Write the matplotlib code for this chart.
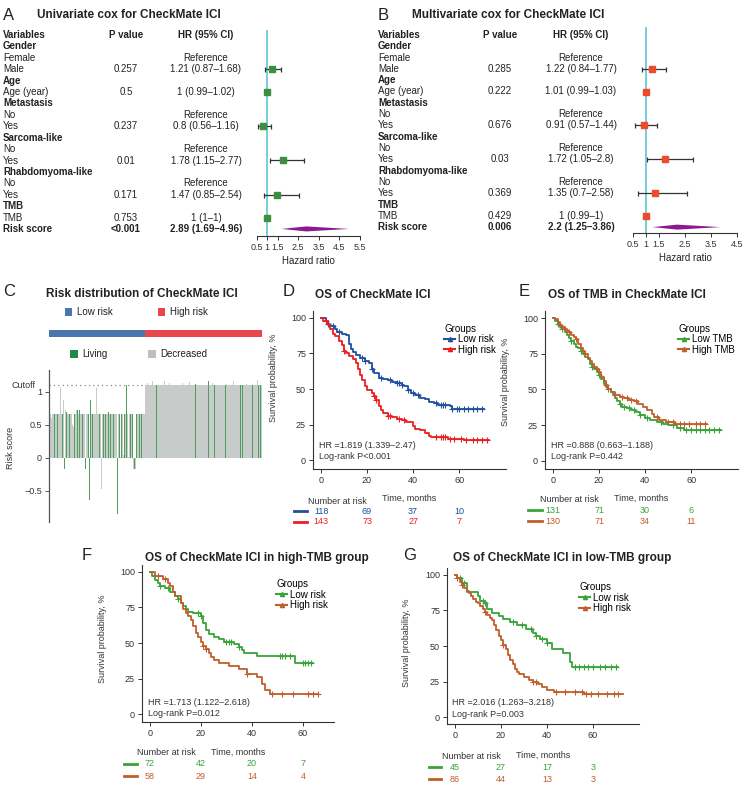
import numpy as np
import matplotlib.pyplot as plt
from matplotlib.lines import Line2D
import matplotlib.transforms as mtransforms

plt.rcParams['font.family'] = ['Liberation Sans', 'DejaVu Sans']

W, H = 743, 787
fig = plt.figure(figsize=(W / 100, H / 100), dpi=100)


def px_axes(l, t, r, b):
    return fig.add_axes([l / W, 1 - b / H, (r - l) / W, (b - t) / H])


ov = px_axes(0, 0, W, H)
ov.set_xlim(0, W)
ov.set_ylim(H, 0)
ov.axis('off')

# ---------------- data ----------------
row_labels = ['Variables', 'Gender', 'Female', 'Male', 'Age', 'Age (year)', 'Metastasis', 'No', 'Yes',
              'Sarcoma-like', 'No', 'Yes', 'Rhabdomyoma-like', 'No', 'Yes', 'TMB', 'TMB', 'Risk score']
bold_rows = [0, 1, 4, 6, 9, 12, 15, 17]

p_uni = ['P value', '', '', '0.257', '', '0.5', '', '', '0.237', '', '', '0.01', '', '', '0.171', '', '0.753', '<0.001']
hr_uni_txt = ['HR (95% CI)', '', 'Reference', '1.21 (0.87–1.68)', '', '1 (0.99–1.02)', '', 'Reference',
              '0.8 (0.56–1.16)', '', 'Reference', '1.78 (1.15–2.77)', '', 'Reference', '1.47 (0.85–2.54)',
              '', '1 (1–1)', '2.89 (1.69–4.96)']
p_multi = ['P value', '', '', '0.285', '', '0.222', '', '', '0.676', '', '', '0.03', '', '', '0.369', '', '0.429', '0.006']
hr_multi_txt = ['HR (95% CI)', '', 'Reference', '1.22 (0.84–1.77)', '', '1.01 (0.99–1.03)', '', 'Reference',
                '0.91 (0.57–1.44)', '', 'Reference', '1.72 (1.05–2.8)', '', 'Reference', '1.35 (0.7–2.58)',
                '', '1 (0.99–1)', '2.2 (1.25–3.86)']

forest_rows = [3, 5, 8, 11, 14, 16]
hr_uni = [1.21, 1.00, 0.80, 1.78, 1.47, 1.00]
lo_uni = [0.87, 0.99, 0.56, 1.15, 0.85, 1.00]
hi_uni = [1.68, 1.02, 1.16, 2.77, 2.54, 1.00]
risk_uni = (2.89, 1.69, 4.96)
hr_multi = [1.22, 1.01, 0.91, 1.72, 1.35, 1.00]
lo_multi = [0.84, 0.99, 0.57, 1.05, 0.70, 0.99]
hi_multi = [1.77, 1.03, 1.44, 2.80, 2.58, 1.00]
risk_multi = (2.2, 1.25, 3.86)

# risk distribution (C)
risk_low = [0.66, 0.66, 0.70, 0.60, 0.66, 0.66, 0.66, 0.66, 0.66, 0.66,
            0.66, 0.66, 0.66, 0.66, 1.07, 0.66, 0.66, 0.87, -0.17, 0.72,
            0.72, 0.70, 0.66, 0.66, 0.66, 0.66, 0.66, 0.66, 0.50, 0.47,
            0.47, 0.66, 0.66, 0.72, 0.72, 0.76, 0.66, 0.72, 0.66, 0.66,
            0.66, 0.66, 0.66, 0.66, -0.17, 0.66, 0.66, 0.66, 0.66, -0.63,
            0.88, 0.66, 0.66, 0.66, 0.66, 0.66, 0.66, 0.66, 1.06, 0.66,
            0.66, 0.66, 0.66, 0.66, -0.47, 0.66, 0.66, 1.10, 0.66, 0.66,
            0.66, 0.66, 0.70, 0.66, 0.66, 0.66, 0.66, 0.66, 0.66, 0.66,
            0.66, 0.66, 0.66, -0.85, 0.66, 0.66, 0.66, 0.02, 0.66, 0.03,
            0.66, 0.04, 0.66, 0.66, 1.10, 0.66, 0.66, 0.02, 0.66, 0.66,
            0.66, 0.66, 0.66, -0.17, -0.17, -0.17, 0.66, 0.66, 0.66, 0.66,
            0.66, 0.66, 0.66, 0.66, 0.66, 0.66, 0.66, 0.66]
risk_high = [1.10, 1.10, 1.13, 1.10, 1.10, 1.10, 1.10, 1.10, 1.16, 1.10,
             1.10, 1.10, 1.10, 1.10, 1.10, 1.13, 1.10, 1.10, 1.10, 1.10,
             1.10, 1.10, 1.10, 1.17, 1.10, 1.10, 1.10, 1.10, 1.10, 1.13,
             1.10, 1.10, 1.10, 1.10, 1.10, 1.10, 1.14, 1.10, 1.10, 1.10,
             1.10, 1.10, 1.10, 1.10, 1.10, 1.13, 1.10, 1.10, 1.10, 1.10,
             1.10, 1.10, 1.10, 1.10, 1.15, 1.10, 1.10, 1.10, 1.10, 1.10,
             1.10, 1.12, 1.10, 1.10, 1.10, 1.10, 1.10, 1.10, 1.10, 1.13,
             1.10, 1.10, 1.10, 1.10, 1.10, 1.10, 1.10, 1.16, 1.10, 1.10,
             1.10, 1.10, 1.13, 1.10, 1.10, 1.10, 1.10, 1.10, 1.10, 1.10,
             1.10, 1.14, 1.10, 1.10, 1.10, 1.10, 1.10, 1.10, 1.10, 1.12,
             1.10, 1.10, 1.10, 1.10, 1.10, 1.10, 1.10, 1.10, 1.16, 1.10,
             1.10, 1.10, 1.10, 1.13, 1.10, 1.10, 1.10, 1.10, 1.10, 1.10,
             1.10, 1.10, 1.10, 1.10, 1.12, 1.10, 1.10, 1.10, 1.10, 1.10,
             1.10, 1.10, 1.10, 1.10, 1.10, 1.10, 1.10, 1.18, 1.10, 1.10,
             1.10, 1.10, 1.10]
status_low = ("DDLDDDLDDD LDDDDDLDLD DLDDLLDDDD DLDDLLDLDD DLDDLDDDLL LDDLDDDLDD "
              "DLDDDDLDDL DDLDDLDDDL DDDLDDLDLD DDLDLLDDDL DDLDLDDLDD LDDLDDLD").replace(' ', '')
status_high = ("DDDDLDDDDD DDDLDDDDDD DDDDDDLDDD DLDDDDDDDD DDDDDDDLDD DDDLDDDDDD DLDDDDDDDD "
               "DDDDDDDLDD DDDDLDDDDD DDDDDDDDLD DDLDDDDDDD DDDDDDLDDL DDDDDDDDDD DLDDDDDDLD DLD").replace(' ', '')

# KM curves: step times (months) and survival (%), end time, censor times
d_low_t = [0, 2, 3, 4, 6, 7, 9, 11, 12, 13, 14, 15, 17, 19, 21, 22, 23, 25, 27, 29, 31, 33, 35, 36, 38, 39,
           41, 43, 45, 47, 49, 51, 56, 57]
d_low_s = [100, 98, 96, 94, 92, 90, 89, 88, 82, 78, 76, 74, 72, 70, 68, 64, 61, 58, 57, 56, 55, 54, 53, 52, 49, 47,
           46, 44, 43, 41, 40, 39, 38, 36]
d_low_end = 71
d_low_cens = [3, 5, 8, 18, 19, 22, 26, 30, 33, 34, 35, 38, 40, 42, 50, 52, 53, 54, 57, 59, 60, 62, 64, 66, 68, 70]
d_high_t = [0, 1, 3, 4, 5, 6, 8, 9, 10, 11, 12, 14, 15, 16, 17, 18, 19, 20, 22, 23, 24, 25, 26, 27, 29, 31, 33,
            35, 37, 40, 41, 43, 45, 47, 48, 55, 62]
d_high_s = [100, 98, 95, 92, 89, 87, 84, 81, 77, 75, 73, 71, 68, 64, 60, 56, 52, 49, 47, 45, 42, 38, 35, 33, 31, 30,
            29, 28, 27, 24, 22, 21, 19, 17, 16, 15, 14]
d_high_end = 73
d_high_cens = [2, 10, 23, 24, 29, 30, 34, 36, 50, 52, 53, 54, 56, 58, 61, 63, 66, 68, 70, 72]

e_low_t = [0, 1, 2, 3, 4, 5, 6, 7, 8, 9, 10, 11, 12, 13, 14, 15, 16, 17, 18, 19, 20, 21, 22, 23, 24, 25, 26, 27, 28,
           29, 30, 32, 34, 36, 38, 40, 42, 45, 48, 50, 54, 57]
e_low_s = [100, 98, 96, 94, 92, 90, 88, 86, 84, 82, 80, 79, 77, 75, 73, 71, 68, 66, 64, 62, 60, 57, 54, 52, 50, 48,
           46, 44, 42, 40, 38, 37, 36, 34, 32, 30, 29, 27, 26, 25, 23, 21.5]
e_low_end = 73
e_low_cens = [2, 4, 8, 12, 17, 20, 24, 29, 31, 33, 35, 38, 41, 47, 52, 55, 58, 60, 62, 64, 66, 68, 70, 72]
e_high_t = [0, 1, 2, 3, 4, 5, 6, 7, 8, 9, 10, 11, 12, 13, 14, 15, 16, 17, 18, 19, 20, 21, 22, 23, 24, 25, 27, 29, 31,
            33, 35, 37, 39, 41, 43, 44, 46, 49, 53]
e_high_s = [100, 99, 97, 95, 94, 92, 91, 90, 88, 87, 85, 82, 79, 77, 75, 72, 70, 68, 66, 64, 62, 59, 56, 53, 50, 48,
            46, 45, 44, 43, 42, 40, 38, 36, 33, 31, 29, 27.5, 26]
e_high_end = 67
e_high_cens = [3, 5, 7, 10, 14, 19, 23, 27, 30, 32, 34, 36, 45, 50, 52, 55, 57, 59, 62, 64, 66]

f_low_t = [0, 1, 2, 3, 4, 6, 8, 10, 11, 12, 13, 14, 15, 17, 20, 21, 22, 23, 25, 27, 29, 33, 35, 36, 37, 42, 57]
f_low_s = [100, 97, 94, 92, 90, 89, 86, 83, 81, 78, 76, 74, 72, 71, 69, 64, 59, 56, 54, 53, 51, 49, 47, 45, 43, 41, 36]
f_low_end = 64
f_low_cens = [4, 7, 11, 19, 20, 30, 31, 32, 35, 51, 52, 53, 55, 60, 61, 62, 63]
f_high_t = [0, 2, 5, 7, 8, 9, 10, 12, 13, 14, 15, 16, 17, 18, 19, 20, 21, 22, 23, 24, 25, 27, 31, 35, 38, 42, 44,
            45, 47]
f_high_s = [100, 97, 95, 92, 90, 86, 83, 78, 74, 71, 69, 66, 62, 57, 54, 51, 48, 46, 43, 40, 38, 36, 34, 32, 28, 26,
            21, 17, 14]
f_high_end = 66
f_high_cens = [3, 6, 21, 22, 38, 48, 52, 56, 62, 64, 66]

g_low_t = [0, 1, 3, 5, 10, 11, 13, 14, 16, 19, 21, 24, 27, 31, 34, 35, 37, 40, 42, 47, 50, 51]
g_low_s = [100, 98, 94, 88, 85, 82, 80, 76, 73, 71, 69, 67, 65, 62, 59, 57, 55, 52, 48, 45, 39, 35]
g_low_end = 71
g_low_cens = [2, 4, 12, 13, 25, 29, 33, 35, 38, 40, 52, 54, 56, 58, 60, 63, 65, 68, 70]
g_high_t = [0, 1, 2, 3, 4, 5, 6, 7, 8, 9, 10, 11, 12, 13, 14, 15, 16, 17, 18, 19, 20, 21, 22, 23, 24, 25, 26, 27,
            28, 30, 32, 34, 36, 38, 40, 43, 56]
g_high_s = [100, 98, 95, 93, 91, 89, 87, 85, 83, 81, 80, 78, 76, 74, 72, 70, 68, 65, 61, 57, 54, 51, 48, 44, 40, 37,
            34, 32, 30, 28, 26, 25, 23, 21, 19, 17.5, 16]
g_high_end = 73
g_high_cens = [1, 3, 13, 21, 34, 35, 44, 48, 52, 55, 57, 59, 62, 66, 69, 71]

risk_times = [0, 20, 40, 60]
d_risk = [[118, 69, 37, 10], [143, 73, 27, 7]]
e_risk = [[131, 71, 30, 6], [130, 71, 34, 11]]
f_risk = [[72, 42, 20, 7], [58, 29, 14, 4]]
g_risk = [[45, 27, 17, 3], [86, 44, 13, 3]]

TXT = '#222222'
FS = 7

# ---------------- panel titles ----------------
for x, y, letter in [(3, 15, 'A'), (378, 15, 'B'), (3, 291, 'C'), (283, 291, 'D'), (519, 291, 'E'),
                     (82, 555, 'F'), (403, 555, 'G')]:
    ov.text(x, y, letter, fontsize=12, color=TXT, va='center', ha='left')
for x, y, s, ha in [(37, 15, 'Univariate cox for CheckMate ICI', 'left'),
                    (412, 15, 'Multivariate cox for CheckMate ICI', 'left'),
                    (142, 294, 'Risk distribution of CheckMate ICI', 'center'),
                    (315, 295, 'OS of CheckMate ICI', 'left'),
                    (548, 295, 'OS of TMB in CheckMate ICI', 'left'),
                    (145, 558, 'OS of CheckMate ICI in high-TMB group', 'left'),
                    (453, 558, 'OS of CheckMate ICI in low-TMB group', 'left')]:
    ov.text(x, y, s, fontsize=8.5, fontweight='bold', color=TXT, va='center', ha=ha)


# ---------------- forest tables ----------------
def forest(xl, xp, xh, top, step, p_txt, hr_txt, fa, xmax, ticks, hr, lo, hi, risk, color):
    for i, lab in enumerate(row_labels):
        y = top + step * i
        w = 'bold' if i in bold_rows else 'normal'
        wv = 'bold' if i in (0, 17) else 'normal'
        ov.text(xl, y, lab, fontsize=FS, fontweight=w, color=TXT, va='center', ha='left')
        ov.text(xp, y, p_txt[i], fontsize=FS, fontweight=wv, color=TXT, va='center', ha='center')
        ov.text(xh, y, hr_txt[i], fontsize=FS, fontweight=wv, color=TXT, va='center', ha='center')
    fa.axvline(1, color='#5cc6d3', lw=1.2, zorder=1)
    fa.errorbar(hr, forest_rows, xerr=[np.subtract(hr, lo), np.subtract(hi, hr)], fmt='none',
                ecolor='#333333', elinewidth=0.9, capsize=1.8, capthick=0.9, zorder=2)
    fa.plot(hr, forest_rows, 's', color=color, ms=4.5, zorder=3)
    r, rl, rh = risk
    fa.fill([rl, r, rh, r], [17, 17 - 0.22, 17, 17 + 0.22], color='#8a1a8f', lw=0, zorder=3)
    fa.set_xlim(0.5, xmax)
    fa.set_xticks(ticks)
    fa.set_xticklabels([f'{t:g}' for t in ticks], fontsize=6.5, color='#333333')
    fa.set_yticks([])
    for sp in ['top', 'right', 'left']:
        fa.spines[sp].set_visible(False)
    fa.spines['bottom'].set_color('#333333')
    fa.spines['bottom'].set_linewidth(0.8)
    fa.tick_params(axis='x', length=3, width=0.7, pad=2, color='#333333')
    fa.patch.set_alpha(0)
    fa.set_xlabel('Hazard ratio', fontsize=FS, color=TXT, labelpad=3)


fa_a = px_axes(257, 30, 360, 236)
fa_a.set_ylim(17.62, -0.44)
forest(3, 126, 206, 35, 11.41, p_uni, hr_uni_txt, fa_a, 5.5, [0.5, 1, 1.5, 2.5, 3.5, 4.5, 5.5],
       hr_uni, lo_uni, hi_uni, risk_uni, '#3b8f3e')

fa_b = px_axes(633, 27, 737, 233)
fa_b.set_ylim(17.52, -0.71)
forest(378, 500, 581, 35, 11.3, p_multi, hr_multi_txt, fa_b, 4.5, [0.5, 1, 1.5, 2.5, 3.5, 4.5],
       hr_multi, lo_multi, hi_multi, risk_multi, '#ee4a2b')

# ---------------- panel C ----------------
n_low, n_high = len(risk_low), len(risk_high)
scores = risk_low + risk_high
status = status_low + status_high
bar_cols = ['#4e9e5d' if c == 'L' else '#c7cccb' for c in status]

axg = px_axes(49, 330, 262, 337)
axg.barh([0], [n_low], left=-0.5, height=1, color='#4a76ad', lw=0)
axg.barh([0], [n_high], left=n_low - 0.5, height=1, color='#e8484c', lw=0)
axg.set_xlim(-0.5, n_low + n_high - 0.5)
axg.set_ylim(-0.5, 0.5)
axg.axis('off')

axc = px_axes(49, 370, 262, 522)
axc.bar(np.arange(len(scores)), scores, width=1.0, color=bar_cols, lw=0)
axc.hlines(1.1, -0.5, n_low - 0.5, colors='#888888', linestyles=(0, (1, 2.5)), lw=0.9)
axc.set_xlim(-0.5, len(scores) - 0.5)
axc.set_ylim(-0.97, 1.33)
axc.set_yticks([-0.5, 0, 0.5, 1])
axc.set_yticklabels(['−0.5', '0', '0.5', '1'], fontsize=6.5, color='#333333')
axc.set_xticks([])
for sp in ['top', 'right', 'bottom']:
    axc.spines[sp].set_visible(False)
axc.spines['left'].set_color('#555555')
axc.spines['left'].set_linewidth(0.9)
axc.tick_params(axis='y', length=3, width=0.7, pad=2, color='#555555')
axc.set_ylabel('Risk score', fontsize=6.5, color='#333333')
axc.yaxis.set_label_coords(-0.16, 0.49)
ov.text(35, 385, 'Cutoff', fontsize=6.5, color='#333333', ha='right', va='center')

for x, col, lab in [(65, '#4a76ad', 'Low risk'), (158, '#e8484c', 'High risk')]:
    ov.add_patch(plt.Rectangle((x, 308), 7, 8, color=col, lw=0))
    ov.text(x + 12, 312, lab, fontsize=FS, color=TXT, va='center')
for x, col, lab in [(70, '#22874a', 'Living'), (148, '#b9c0bf', 'Decreased')]:
    ov.add_patch(plt.Rectangle((x, 350), 8, 8, color=col, lw=0))
    ov.text(x + 12, 354, lab, fontsize=FS, color=TXT, va='center')


# ---------------- KM panels ----------------
def km(ax, t, s, t_end, cens, color):
    tt = np.append(t, t_end)
    ss = np.append(s, s[-1])
    ax.step(tt, ss, where='post', color=color, lw=1.3, zorder=3)
    idx = np.searchsorted(t, cens, side='right') - 1
    ax.plot(cens, np.asarray(s, dtype=float)[idx], '+', color=color, ms=4, mew=0.8, zorder=3)


def km_panel(box, xlim, ylim, curves, labels, cols, risk, hr_txt, p_txt,
             leg_xy, txt_x, txt_y, ylab_xy, xlab_y, nar_x, nar_y, rows_y, glyph_x):
    ax = px_axes(*box)
    for (t, s, te, c), col in zip(curves, cols):
        km(ax, t, s, te, c, col)
    ax.set_xlim(*xlim)
    ax.set_ylim(*ylim)
    ax.set_xticks(risk_times)
    ax.set_yticks([0, 25, 50, 75, 100])
    ax.tick_params(labelsize=6.5, labelcolor='#333333', length=3, width=0.7, pad=2, color='#333333')
    for sp in ['top', 'right']:
        ax.spines[sp].set_visible(False)
    for sp in ['left', 'bottom']:
        ax.spines[sp].set_color('#333333')
        ax.spines[sp].set_linewidth(0.8)
    ax.patch.set_alpha(0)
    ax.set_ylabel('Survival probability, %', fontsize=6.5, color='#333333')
    ax.yaxis.set_label_coords(ylab_xy[0], ylab_xy[1])
    ax.set_xlabel('Time, months', fontsize=6.5, color='#333333')
    ax.xaxis.set_label_coords(0.5, xlab_y)
    handles = [Line2D([], [], color=c, lw=1.5, marker='^', ms=3) for c in cols]
    leg = ax.legend(handles, labels, title='Groups', loc='upper left', bbox_to_anchor=leg_xy,
                    frameon=False, fontsize=7, title_fontsize=7, handlelength=1.1, handletextpad=0.3,
                    labelspacing=0.05, borderpad=0, borderaxespad=0)
    leg._legend_box.align = 'left'
    ax.text(txt_x, txt_y[0], hr_txt, transform=ax.transAxes, fontsize=6.5, color='#333333', va='center')
    ax.text(txt_x, txt_y[1], p_txt, transform=ax.transAxes, fontsize=6.5, color='#333333', va='center')
    ax.text(nar_x, nar_y, 'Number at risk', transform=ax.transAxes, fontsize=6.5, color='#333333',
            va='center', ha='left')
    bl = mtransforms.blended_transform_factory(ax.transData, ax.transAxes)
    for vals, col, ry in zip(risk, cols, rows_y):
        ax.plot(glyph_x, [ry, ry], color=col, lw=2, transform=ax.transAxes, clip_on=False)
        for tm, v in zip(risk_times, vals):
            ax.text(tm, ry, str(v), transform=bl, fontsize=6.5, color=col, ha='center', va='center')
    return ax


km_panel((313, 311, 506, 469), (-3.5, 80.4), (-6.3, 104.9),
         [(d_low_t, d_low_s, d_low_end, d_low_cens), (d_high_t, d_high_s, d_high_end, d_high_cens)],
         ['Low risk', 'High risk'], ['#1f4f9e', '#ea1f22'], d_risk,
         'HR =1.819 (1.339–2.47)', 'Log-rank P<0.001',
         (0.68, 0.92), 0.03, (0.146, 0.076), (-0.18, 0.58), -0.158,
         -0.026, -0.203, (-0.266, -0.335), [-0.098, -0.031])

km_panel((545, 311, 738, 469), (-3.5, 80.4), (-5.6, 104.9),
         [(e_low_t, e_low_s, e_low_end, e_low_cens), (e_high_t, e_high_s, e_high_end, e_high_cens)],
         ['Low TMB', 'High TMB'], ['#3aa33a', '#c25e2b'], e_risk,
         'HR =0.888 (0.663–1.188)', 'Log-rank P=0.442',
         (0.69, 0.92), 0.03, (0.146, 0.076), (-0.18, 0.55), -0.158,
         -0.026, -0.19, (-0.26, -0.33), [-0.088, -0.016])

km_panel((142, 565, 334, 722), (-3.1, 72.2), (-5.6, 104.9),
         [(f_low_t, f_low_s, f_low_end, f_low_cens), (f_high_t, f_high_s, f_high_end, f_high_cens)],
         ['Low risk', 'High risk'], ['#3aa33a', '#c25e2b'], f_risk,
         'HR =1.713 (1.122–2.618)', 'Log-rank P=0.012',
         (0.70, 0.91), 0.03, (0.127, 0.057), (-0.18, 0.53), -0.166,
         -0.026, -0.197, (-0.267, -0.344), [-0.094, -0.026])

km_panel((447, 568, 639, 724), (-3.5, 80.0), (-4.9, 104.9),
         [(g_low_t, g_low_s, g_low_end, g_low_cens), (g_high_t, g_high_s, g_high_end, g_high_cens)],
         ['Low risk', 'High risk'], ['#3aa33a', '#c25e2b'], g_risk,
         'HR =2.016 (1.263–3.218)', 'Log-rank P=0.003',
         (0.69, 0.91), 0.026, (0.135, 0.064), (-0.19, 0.52), -0.173,
         -0.026, -0.21, (-0.276, -0.353), [-0.096, -0.032])

fig.savefig('out.png', dpi=100)
